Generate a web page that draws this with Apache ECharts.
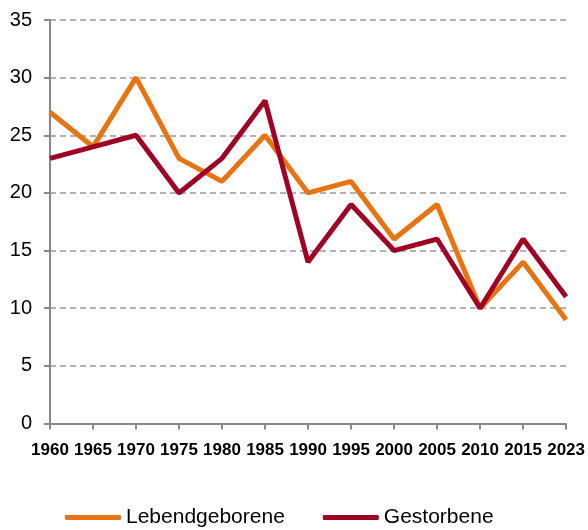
<!DOCTYPE html>
<html>
<head>
<meta charset="utf-8">
<script src="https://cdn.jsdelivr.net/npm/echarts@6/dist/echarts.min.js"></script>
<style>html,body{margin:0;padding:0;background:#fff}#c{width:588px;height:530px}</style>
</head>
<body>
<div id="c"></div>
<script>
const years = ['1960','1965','1970','1975','1980','1985','1990','1995','2000','2005','2010','2015','2023'];
const lebendgeborene = [27,24,30,23,21,25,20,21,16,19,10,14,9];
const gestorbene = [23,24,25,20,23,28,14,19,15,16,10,16,11];
const seriesNames = ['Lebendgeborene','Gestorbene'];
const yTicks = {min:0, max:35, interval:5};

const chart = echarts.init(document.getElementById('c'), null, {renderer:'canvas'});
chart.setOption({
  animation:false,
  backgroundColor:'#fff',
  grid:{left:50, right:20.5, top:20, bottom:106.5, containLabel:false},
  legend:{
    data:seriesNames,
    top:507,
    left:65,
    padding:0,
    icon:'roundRect',
    itemWidth:56,
    itemHeight:5,
    itemGap:38,
    textStyle:{fontFamily:'Liberation Sans, Arial, sans-serif', fontSize:21, color:'#000'}
  },
  xAxis:{
    type:'category',
    data:years,
    boundaryGap:false,
    axisLine:{lineStyle:{color:'#888', width:2}},
    axisTick:{show:true, length:6, lineStyle:{color:'#888', width:2}},
    axisLabel:{fontFamily:'Liberation Sans Narrow, Arial Narrow, Liberation Sans, Arial, sans-serif', fontWeight:'bold', fontSize:17, color:'#000', margin:18, interval:0},
    splitLine:{show:false}
  },
  yAxis:{
    type:'value',
    min:yTicks.min, max:yTicks.max, interval:yTicks.interval,
    axisLine:{show:true, lineStyle:{color:'#888', width:2}},
    axisTick:{show:true, length:6, lineStyle:{color:'#888', width:2}},
    axisLabel:{fontFamily:'Liberation Sans, Arial, sans-serif', fontSize:20, color:'#000', margin:18},
    splitLine:{show:true, lineStyle:{color:'#999', width:1.5, type:[6,4]}}
  },
  series:[
    {name:seriesNames[0], type:'line', data:lebendgeborene, showSymbol:false, symbol:'none', lineStyle:{color:'#E8730F', width:5}, itemStyle:{color:'#E8730F'}},
    {name:seriesNames[1], type:'line', data:gestorbene, showSymbol:false, symbol:'none', lineStyle:{color:'#A00024', width:5}, itemStyle:{color:'#A00024'}}
  ]
});
</script>
</body>
</html>
